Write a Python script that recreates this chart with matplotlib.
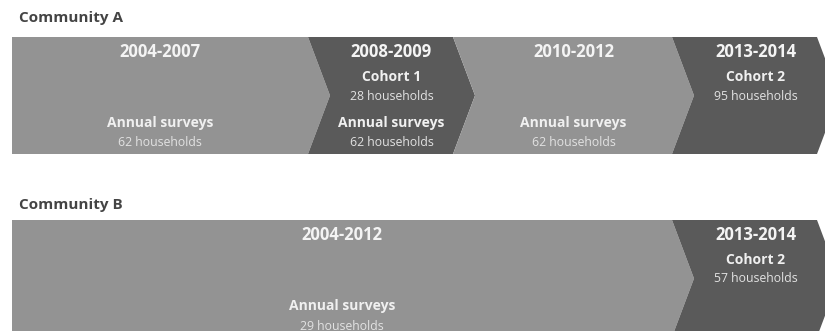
import matplotlib
matplotlib.use("Agg")
import matplotlib.pyplot as plt
from matplotlib.patches import Polygon

# ---- data ----
community_names = ["Community A", "Community B"]

a_periods = ["2004-2007", "2008-2009", "2010-2012", "2013-2014"]
a_cohort = [None, "Cohort 1", None, "Cohort 2"]
a_cohort_hh = [None, 28, None, 95]
a_annual_hh = [62, 62, 62, None]

b_periods = ["2004-2012", "2013-2014"]
b_cohort = [None, "Cohort 2"]
b_cohort_hh = [None, 57]
b_annual_hh = [29, None]

# ---- layout (pixel space) ----
W, H = 825, 331
LIGHT = "#939393"
DARK = "#5a5a5a"
TITLE_C = "#444444"
FONT = "Open Sans"

fig = plt.figure(figsize=(W / 100, H / 100), dpi=100)
ax = fig.add_axes([0, 0, 1, 1])
ax.set_xlim(0, W)
ax.set_ylim(H, 0)
ax.axis("off")

BAR_H = 117
D = 22  # chevron depth


def draw_row(top, edges, periods, cohort, cohort_hh, annual_hh, colors, title, title_y):
    bot = top + BAR_H
    mid = (top + bot) / 2
    ax.text(19, title_y, title, fontsize=11, fontweight="bold", color=TITLE_C,
            family=FONT, ha="left", va="center")
    n = len(periods)
    for i in range(n):
        x0, x1 = edges[i], edges[i + 1]
        pts = [(x0, top), (x1, top), (x1 + D, mid), (x1, bot), (x0, bot)]
        if i > 0:
            pts.append((x0 + D, mid))
        ax.add_patch(Polygon(pts, closed=True, facecolor=colors[i], edgecolor="none"))
    for i in range(n):
        x0, x1 = edges[i], edges[i + 1]
        cx = (x0 + x1) / 2 + (D / 2 if i > 0 else 0)
        ax.text(cx, top + 15, periods[i], fontsize=12, fontweight="bold",
                color="#f4f4f4", family=FONT, ha="center", va="center")
        if cohort[i]:
            ax.text(cx, top + 40, cohort[i], fontsize=10, fontweight="bold",
                    color="#f0f0f0", family=FONT, ha="center", va="center")
            ax.text(cx, top + 59, f"{cohort_hh[i]} households", fontsize=8.8,
                    color="#e2e2e2", family=FONT, ha="center", va="center")
        if annual_hh[i]:
            ax.text(cx, top + 86, "Annual surveys", fontsize=10, fontweight="bold",
                    color="#f0f0f0", family=FONT, ha="center", va="center")
            ax.text(cx, top + 106, f"{annual_hh[i]} households", fontsize=8.8,
                    color="#e2e2e2", family=FONT, ha="center", va="center")


draw_row(37, [12, 308, 453, 672, 817], a_periods, a_cohort, a_cohort_hh, a_annual_hh,
         [LIGHT, DARK, LIGHT, DARK], community_names[0], 18)
draw_row(220, [12, 672, 817], b_periods, b_cohort, b_cohort_hh, b_annual_hh,
         [LIGHT, DARK], community_names[1], 205)

fig.savefig("out.png", dpi=100, facecolor="white")
